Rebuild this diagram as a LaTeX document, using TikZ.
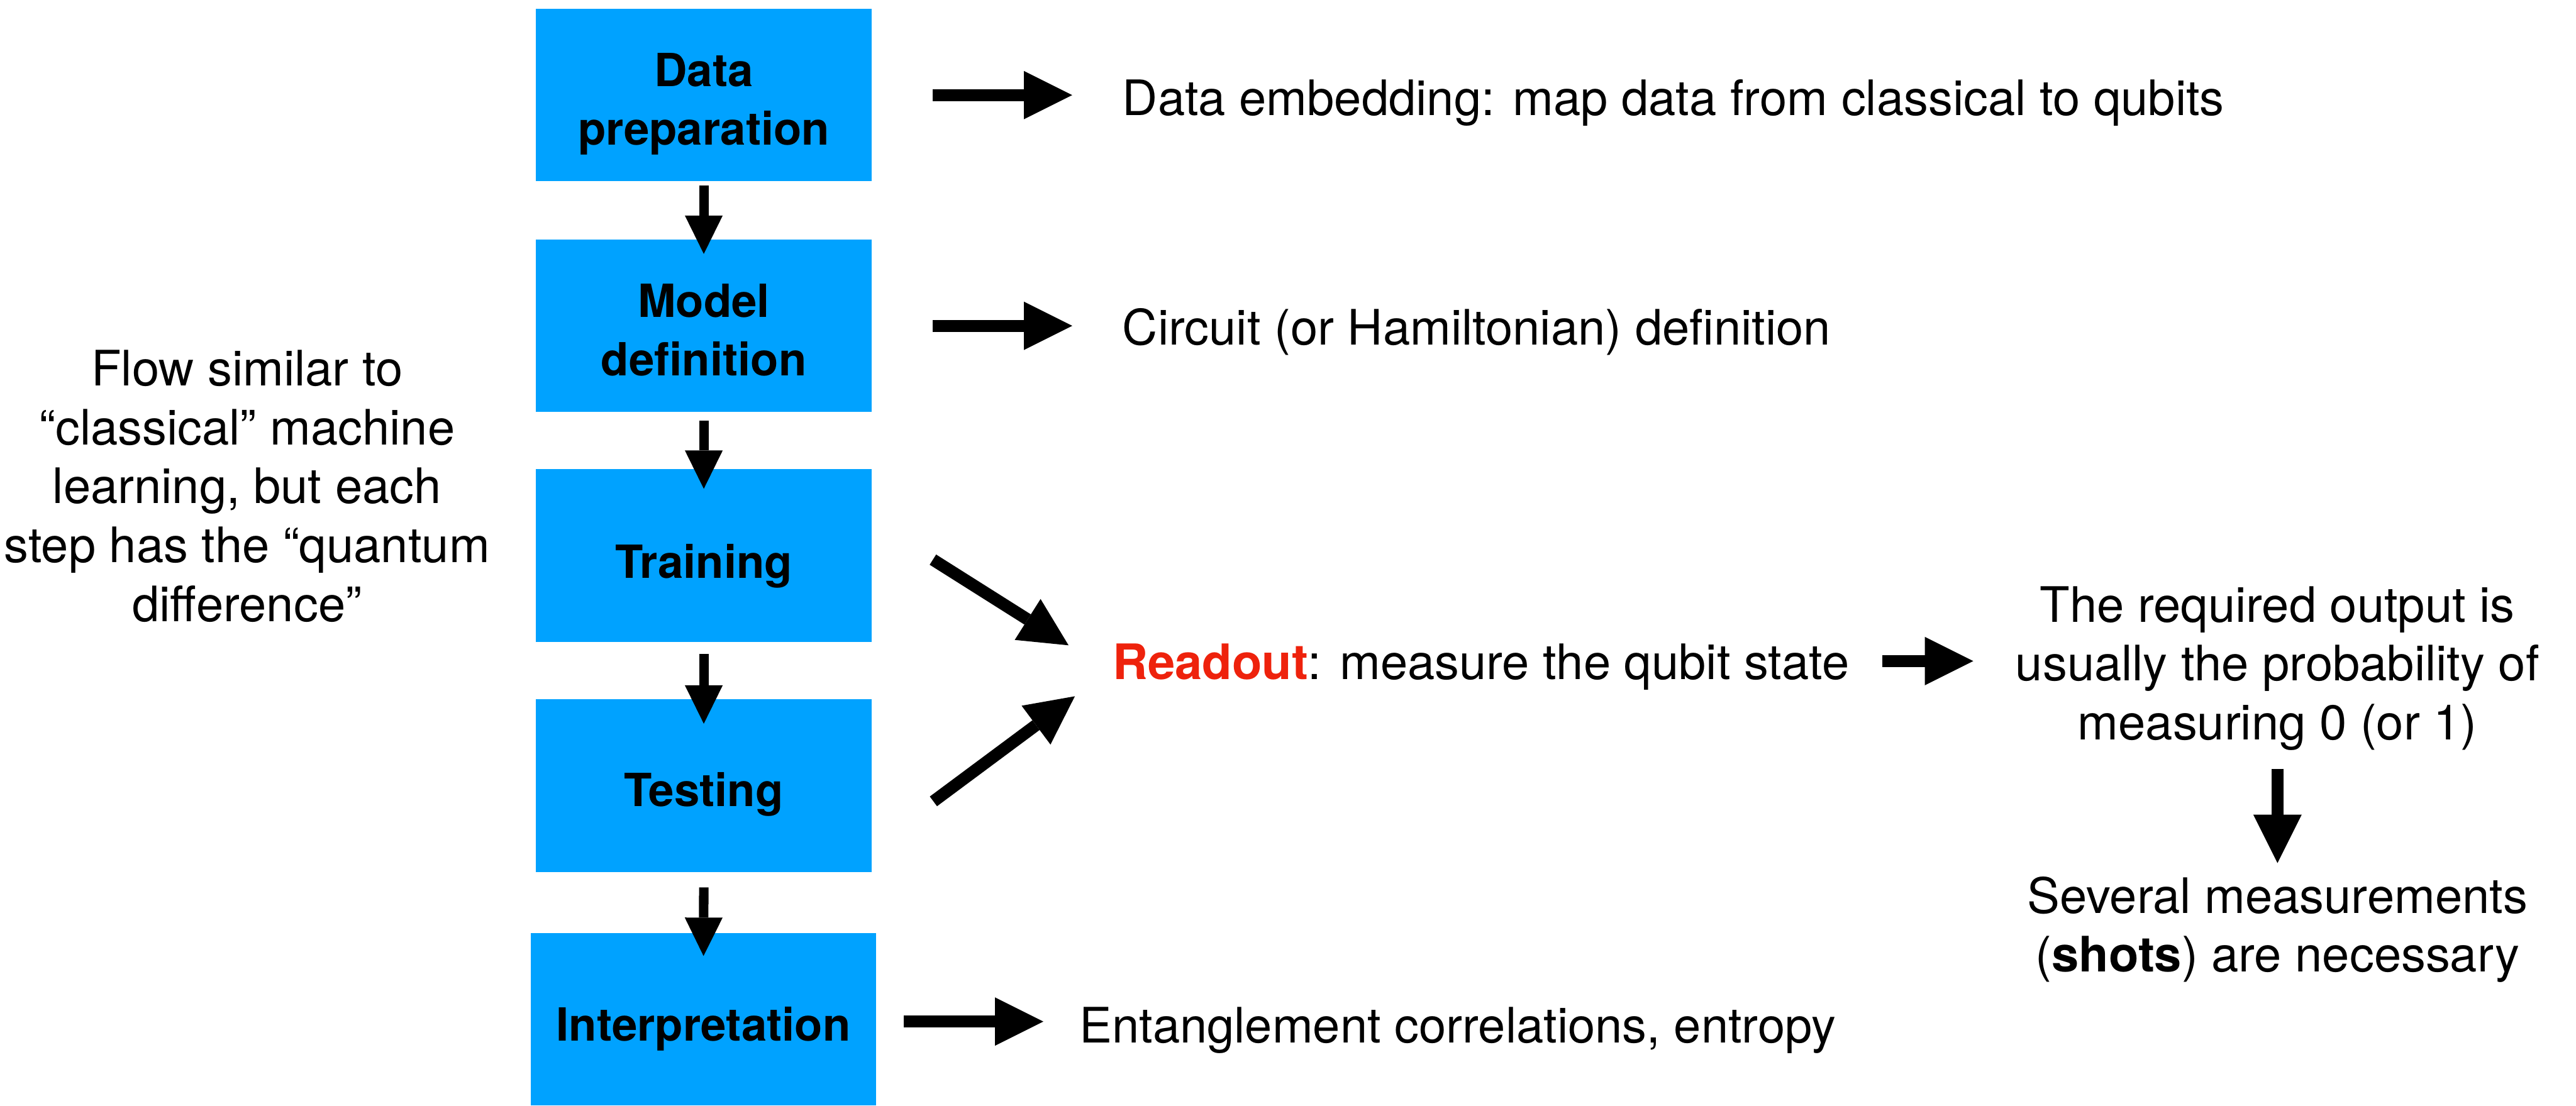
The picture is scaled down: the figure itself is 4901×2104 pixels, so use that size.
\documentclass[tikz,border=0pt]{standalone}
\usepackage{fontspec}
\setmainfont{TeX Gyre Heros}
\usetikzlibrary{arrows.meta,calc}
\definecolor{boxblue}{RGB}{0,162,255}
\definecolor{readred}{RGB}{238,34,12}
\newcommand\lowtxt[2][0.17cm]{\raisebox{-#1}[\height][\depth]{#2}}
\begin{document}
\begin{tikzpicture}[x=0.01cm,y=-0.01cm,
  stepbox/.style={fill=boxblue, inner sep=0pt, minimum width=6.38cm, minimum height=3.28cm, align=center, font=\fontsize{24.7pt}{31.87pt}\selectfont\bfseries},
  txt/.style={inner sep=0pt, font=\fontsize{26.45pt}{31.87pt}\selectfont},
  bigarrow/.style={line width=0.23cm, -{Triangle[length=0.92cm,width=0.92cm,line width=0pt]}},
  smallarrow/.style={line width=0.18cm, -{Triangle[length=0.73cm,width=0.72cm,line width=0pt]}}]
\useasboundingbox (0,0) rectangle (4901,2104);
% boxes
\node[stepbox] (b1) at (1339,181) {\lowtxt{Data}\\\lowtxt{preparation}};
\node[stepbox] (b2) at (1339,620) {\lowtxt[0.08cm]{Model}\\\lowtxt[0.08cm]{definition}};
\node[stepbox] (b3) at (1339,1057) {\lowtxt[0.2cm]{Training}};
\node[stepbox] (b4) at (1339,1495) {\lowtxt{Testing}};
\node[stepbox, minimum width=6.57cm] (b5) at (1338.5,1940) {\lowtxt[0.18cm]{Interpretation}};
% texts
\node[txt, anchor=base west] (t1) at (2135,219) {Data embedding: map data from classical to qubits};
\node[txt, anchor=base west] (t2) at (2135,656) {Circuit (or Hamiltonian) definition};
\node[txt, anchor=base west] (ro) at (2116,1293) {\textcolor{readred}{\textbf{Readout}}: measure the qubit state};
\node[txt, anchor=base west] (t5) at (2053,1985) {Entanglement correlations, entropy};
\node[txt, align=center] (lt) at (470,925) {Flow similar to\\“classical” machine\\learning, but each\\step has the “quantum\\difference”};
\node[txt, align=center] (r1) at (4333,1272) {The required output is\\usually the probability of\\measuring 0 (or 1)};
\node[txt, align=center] (r2) at (4333,1769) {Several measurements\\(\textbf{shots}) are necessary};
% flow arrows
\draw[smallarrow] ($(b1.south)+(0,7)$) -- ($(b2.north)+(0,28)$);
\draw[smallarrow] ($(b2.south)+(0,16)$) -- ($(b3.north)+(0,38)$);
\draw[smallarrow] ($(b3.south)+(0,23)$) -- ($(b4.north)+(0,47)$);
\draw[smallarrow] ($(b4.south)+(0,29)$) -- ($(b5.north)+(0,44)$);
% side arrows
\draw[bigarrow] ($(b1.east)+(116,0)$) -- ($(t1.base west)+(-95,-38)$);
\draw[bigarrow] ($(b2.east)+(116,0)$) -- ($(t2.base west)+(-95,-36)$);
\draw[bigarrow] ($(b5.east)+(52,4)$) -- ($(t5.base west)+(-68,-41)$);
\draw[bigarrow] ($(b3.east)+(116,8)$) -- ($(ro.base west)+(-83,-65)$);
\draw[bigarrow] ($(b4.east)+(117,30)$) -- ($(ro.base west)+(-71,32)$);
\draw[bigarrow] ($(ro.base east)+(62,-35)$) -- ($(r1.west)+(-80,-14)$);
\draw[bigarrow] ($(r1.south)+(0,34)$) -- ($(r2.north)+(0,-25)$);
\end{tikzpicture}
\end{document}
